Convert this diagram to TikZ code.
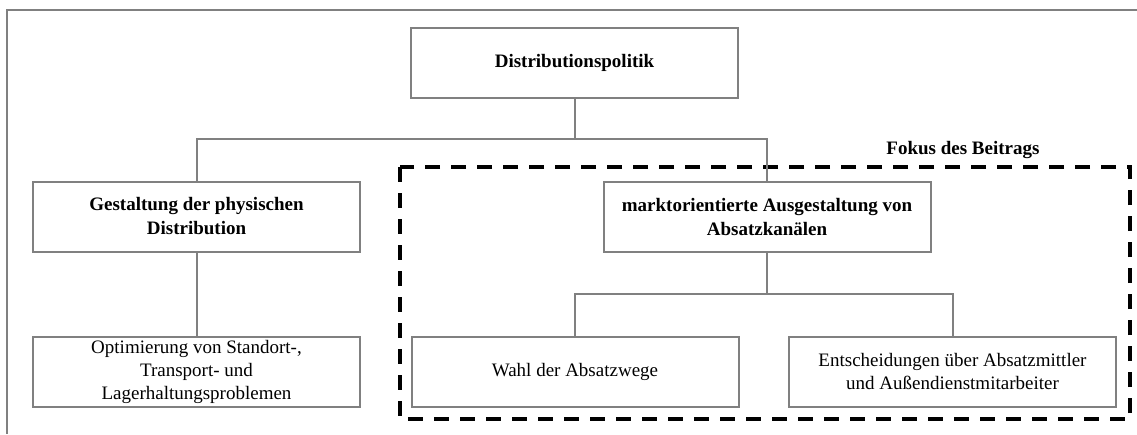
\documentclass[tikz,border=0pt]{standalone}
\usepackage{fontspec}
\setmainfont{Liberation Serif}
\usetikzlibrary{calc}

\definecolor{boxgray}{HTML}{808080}

\begin{document}
\begin{tikzpicture}[x=1pt, y=-1pt,
        box/.style={draw=boxgray, line width=2pt, minimum width=327pt, minimum height=70pt,
                inner sep=0pt, align=center, font=\fontsize{19}{23}\selectfont},
        boldbox/.style={box, font=\fontsize{19}{24}\selectfont\bfseries},
        link/.style={draw=boxgray, line width=2pt},
        focus/.style={draw=black, line width=4pt, dash pattern=on 15pt off 11pt}]
        \def\top{62.5}
        \def\mid{216.5}
        \def\low{371.5}

        \useasboundingbox (0,0) rectangle (1137,434);

        % Frame
        \draw[link] (1137,10) -- (7,10) -- (7,434);

        % Focus area
        \draw[focus] (400,167) rectangle (1130,419);
        \node[font=\fontsize{19}{23}\selectfont\bfseries] (fokus) at (963,150) {Fokus des Beitrags};

        % Boxes
        \node[boldbox] (dp) at (574.5,\top) {Distributionspolitik};
        \node[boldbox] (gpd) at (196.5,\mid) {Gestaltung der physischen\\Distribution};
        \node[boldbox] (mak) at (767,\mid) {marktorientierte Ausgestaltung von\\Absatzkanälen};
        \node[box] (opt) at (196.5,\low) {Optimierung von Standort-,\\Transport- und\\Lagerhaltungsproblemen};
        \node[box] (wa) at (575,\low) {Wahl der Absatzwege};
        \node[box] (ent) at (952.5,\low) {Entscheidungen über Absatzmittler\\und Außendienstmitarbeiter};

        % Connectors
        \coordinate (j1) at (dp.south |- 0,139);
        \coordinate (j2) at (mak.south |- 0,294);
        \draw[link] (dp) -- (j1);
        \draw[link] (gpd.north) |- (j1) -| (mak.north);
        \draw[link] (gpd) -- (opt);
        \draw[link] (mak) -- (j2);
        \draw[link] (wa.north) |- (j2) -| (ent.north);
\end{tikzpicture}
\end{document}
